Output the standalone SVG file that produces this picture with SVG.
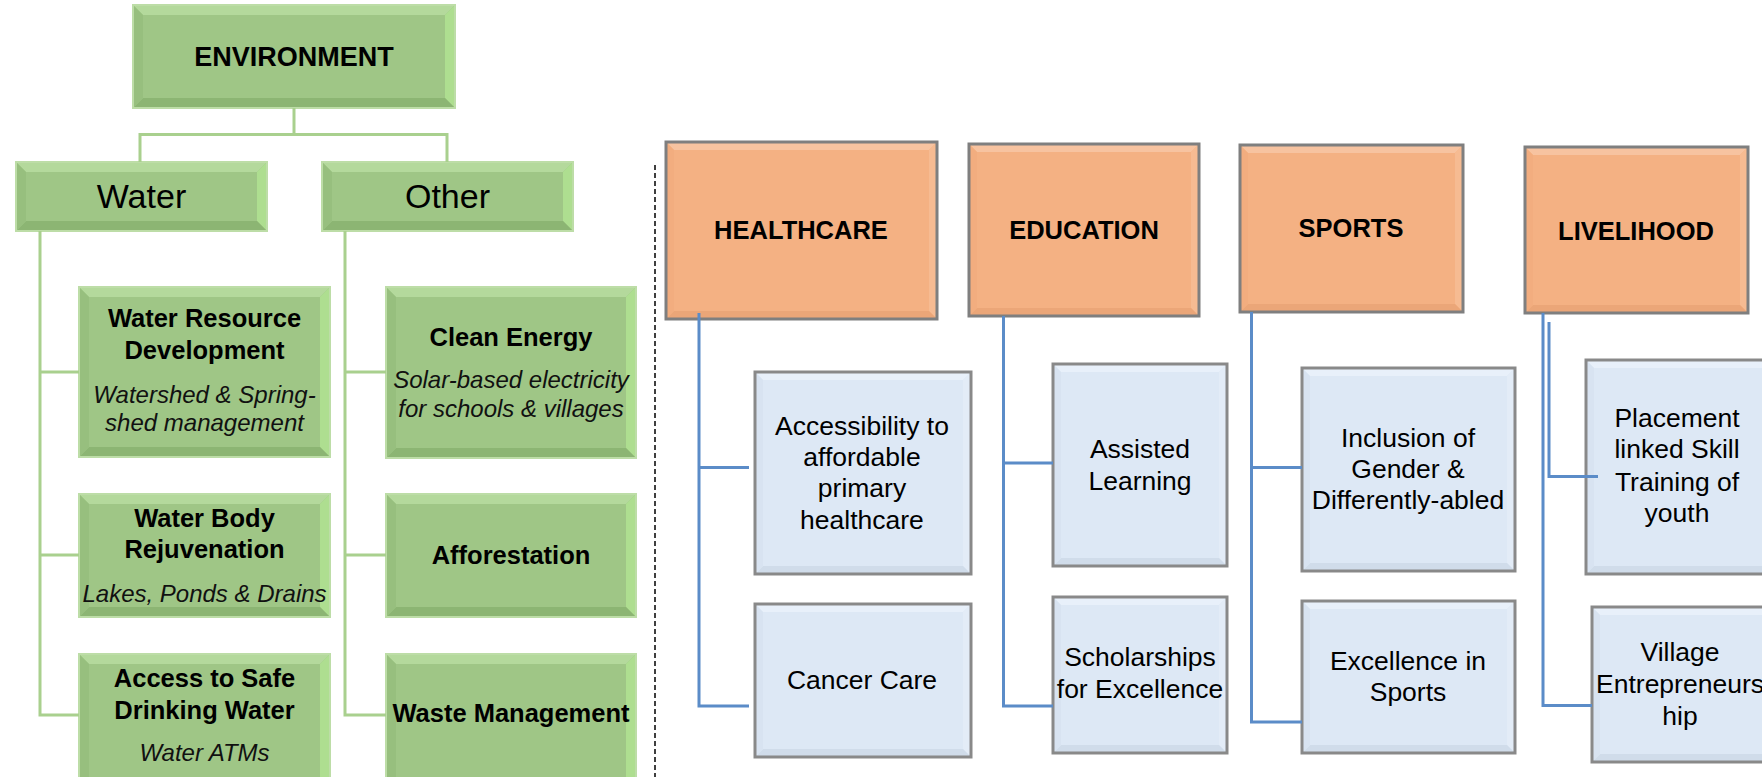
<svg xmlns="http://www.w3.org/2000/svg" width="1762" height="777" viewBox="0 0 1762 777">
<style>
text{font-family:"Liberation Sans",Arial,sans-serif;fill:#000;text-anchor:middle}
.gb{fill:#9fc686}.gt{fill:#b4d99c}.gr{fill:#aede90}.gbt{fill:#8cb573}.gl{fill:#97bf7e}
.go{fill:none;stroke:#bddda7;stroke-width:2}
.ob{fill:#f4b183}.ot{fill:#f7c3a0}.or{fill:#f6bb92}.obt{fill:#eba678}.ol{fill:#f2ad7f}
.oo{fill:none;stroke:#7f7f7f;stroke-width:3}
.bb{fill:#dde8f5}.bt{fill:#e8f0fa}.br{fill:#e3ecf7}.bbt{fill:#d0dcea}.bl{fill:#d8e3f1}
.bo{fill:none;stroke:#898989;stroke-width:3}
.t1{font-size:27px;font-weight:bold}
.t2{font-size:34px}
.tg{font-size:25.5px;font-weight:bold}
.ti{font-size:24px;font-style:italic;fill:#111}
.to{font-size:25.5px;font-weight:bold}
.tb{font-size:26.5px}
.cg{fill:none;stroke:#a9d08e;stroke-width:3}
.cb{fill:none;stroke:#5b8cc8;stroke-width:3}
.dash{fill:none;stroke:#000;stroke-width:1.5;stroke-dasharray:5 3}
</style>

<g id="environment">
<rect class="gb" x="133" y="5" width="322" height="103"/>
<polygon class="gt" points="133,5 455,5 445,15 143,15"/>
<polygon class="gr" points="455,5 455,108 445,98 445,15"/>
<polygon class="gbt" points="133,108 143,98 445,98 455,108"/>
<polygon class="gl" points="133,5 143,15 143,98 133,108"/>
<rect class="go" x="133" y="5" width="322" height="103"/>
<text class="t1" x="294" y="66">ENVIRONMENT</text>
</g>

<g id="water">
<rect class="gb" x="16" y="162" width="251" height="69"/>
<polygon class="gt" points="16,162 267,162 257,172 26,172"/>
<polygon class="gr" points="267,162 267,231 257,221 257,172"/>
<polygon class="gbt" points="16,231 26,221 257,221 267,231"/>
<polygon class="gl" points="16,162 26,172 26,221 16,231"/>
<rect class="go" x="16" y="162" width="251" height="69"/>
<text class="t2" x="141.5" y="208">Water</text>
</g>

<g id="other">
<rect class="gb" x="322" y="162" width="251" height="69"/>
<polygon class="gt" points="322,162 573,162 563,172 332,172"/>
<polygon class="gr" points="573,162 573,231 563,221 563,172"/>
<polygon class="gbt" points="322,231 332,221 563,221 573,231"/>
<polygon class="gl" points="322,162 332,172 332,221 322,231"/>
<rect class="go" x="322" y="162" width="251" height="69"/>
<text class="t2" x="447.5" y="208">Other</text>
</g>

<g id="water-resource">
<rect class="gb" x="79" y="287" width="251" height="170"/>
<polygon class="gt" points="79,287 330,287 320,297 89,297"/>
<polygon class="gr" points="330,287 330,457 320,447 320,297"/>
<polygon class="gbt" points="79,457 89,447 320,447 330,457"/>
<polygon class="gl" points="79,287 89,297 89,447 79,457"/>
<rect class="go" x="79" y="287" width="251" height="170"/>
<text class="tg" x="204.5" y="327">Water Resource</text>
<text class="tg" x="204.5" y="359">Development</text>
<text class="ti" x="204.5" y="403">Watershed &amp; Spring-</text>
<text class="ti" x="204.5" y="431">shed management</text>
</g>

<g id="water-body">
<rect class="gb" x="79" y="494" width="251" height="123"/>
<polygon class="gt" points="79,494 330,494 320,504 89,504"/>
<polygon class="gr" points="330,494 330,617 320,607 320,504"/>
<polygon class="gbt" points="79,617 89,607 320,607 330,617"/>
<polygon class="gl" points="79,494 89,504 89,607 79,617"/>
<rect class="go" x="79" y="494" width="251" height="123"/>
<text class="tg" x="204.5" y="527">Water Body</text>
<text class="tg" x="204.5" y="558">Rejuvenation</text>
<text class="ti" x="204.5" y="602">Lakes, Ponds &amp; Drains</text>
</g>

<g id="safe-water">
<rect class="gb" x="79" y="654" width="251" height="136"/>
<polygon class="gt" points="79,654 330,654 320,664 89,664"/>
<polygon class="gr" points="330,654 330,790 320,780 320,664"/>
<polygon class="gl" points="79,654 89,664 89,780 79,790"/>
<rect class="go" x="79" y="654" width="251" height="136"/>
<text class="tg" x="204.5" y="687">Access to Safe</text>
<text class="tg" x="204.5" y="719">Drinking Water</text>
<text class="ti" x="204.5" y="761">Water ATMs</text>
</g>

<g id="clean-energy">
<rect class="gb" x="386" y="287" width="250" height="171"/>
<polygon class="gt" points="386,287 636,287 626,297 396,297"/>
<polygon class="gr" points="636,287 636,458 626,448 626,297"/>
<polygon class="gbt" points="386,458 396,448 626,448 636,458"/>
<polygon class="gl" points="386,287 396,297 396,448 386,458"/>
<rect class="go" x="386" y="287" width="250" height="171"/>
<text class="tg" x="511" y="346">Clean Energy</text>
<text class="ti" x="511" y="388">Solar-based electricity</text>
<text class="ti" x="511" y="417">for schools &amp; villages</text>
</g>

<g id="afforestation">
<rect class="gb" x="386" y="494" width="250" height="123"/>
<polygon class="gt" points="386,494 636,494 626,504 396,504"/>
<polygon class="gr" points="636,494 636,617 626,607 626,504"/>
<polygon class="gbt" points="386,617 396,607 626,607 636,617"/>
<polygon class="gl" points="386,494 396,504 396,607 386,617"/>
<rect class="go" x="386" y="494" width="250" height="123"/>
<text class="tg" x="511" y="564">Afforestation</text>
</g>

<g id="waste">
<rect class="gb" x="386" y="654" width="250" height="136"/>
<polygon class="gt" points="386,654 636,654 626,664 396,664"/>
<polygon class="gr" points="636,654 636,790 626,780 626,664"/>
<polygon class="gl" points="386,654 396,664 396,780 386,790"/>
<rect class="go" x="386" y="654" width="250" height="136"/>
<text class="tg" x="511" y="722">Waste Management</text>
</g>

<g id="healthcare">
<rect class="ob" x="666" y="142" width="271" height="177"/>
<polygon class="ot" points="666,142 937,142 929,150 674,150"/>
<polygon class="or" points="937,142 937,319 929,311 929,150"/>
<polygon class="obt" points="666,319 674,311 929,311 937,319"/>
<polygon class="ol" points="666,142 674,150 674,311 666,319"/>
<rect class="oo" x="666" y="142" width="271" height="177"/>
<text class="to" x="801" y="239">HEALTHCARE</text>
</g>

<g id="education">
<rect class="ob" x="969" y="144" width="230" height="172"/>
<polygon class="ot" points="969,144 1199,144 1191,152 977,152"/>
<polygon class="or" points="1199,144 1199,316 1191,308 1191,152"/>
<polygon class="obt" points="969,316 977,308 1191,308 1199,316"/>
<polygon class="ol" points="969,144 977,152 977,308 969,316"/>
<rect class="oo" x="969" y="144" width="230" height="172"/>
<text class="to" x="1084" y="239">EDUCATION</text>
</g>

<g id="sports">
<rect class="ob" x="1240" y="145" width="223" height="167"/>
<polygon class="ot" points="1240,145 1463,145 1455,153 1248,153"/>
<polygon class="or" points="1463,145 1463,312 1455,304 1455,153"/>
<polygon class="obt" points="1240,312 1248,304 1455,304 1463,312"/>
<polygon class="ol" points="1240,145 1248,153 1248,304 1240,312"/>
<rect class="oo" x="1240" y="145" width="223" height="167"/>
<text class="to" x="1351" y="237">SPORTS</text>
</g>

<g id="livelihood">
<rect class="ob" x="1525" y="147" width="223" height="166"/>
<polygon class="ot" points="1525,147 1748,147 1740,155 1533,155"/>
<polygon class="or" points="1748,147 1748,313 1740,305 1740,155"/>
<polygon class="obt" points="1525,313 1533,305 1740,305 1748,313"/>
<polygon class="ol" points="1525,147 1533,155 1533,305 1525,313"/>
<rect class="oo" x="1525" y="147" width="223" height="166"/>
<text class="to" x="1636" y="239.5">LIVELIHOOD</text>
</g>

<g id="accessibility">
<rect class="bb" x="755" y="372" width="216" height="202"/>
<polygon class="bt" points="755,372 971,372 963,380 763,380"/>
<polygon class="br" points="971,372 971,574 963,566 963,380"/>
<polygon class="bbt" points="755,574 763,566 963,566 971,574"/>
<polygon class="bl" points="755,372 763,380 763,566 755,574"/>
<rect class="bo" x="755" y="372" width="216" height="202"/>
<text class="tb" x="862" y="435">Accessibility to</text>
<text class="tb" x="862" y="466">affordable</text>
<text class="tb" x="862" y="497">primary</text>
<text class="tb" x="862" y="529">healthcare</text>
</g>

<g id="cancer-care">
<rect class="bb" x="755" y="604" width="216" height="153"/>
<polygon class="bt" points="755,604 971,604 963,612 763,612"/>
<polygon class="br" points="971,604 971,757 963,749 963,612"/>
<polygon class="bbt" points="755,757 763,749 963,749 971,757"/>
<polygon class="bl" points="755,604 763,612 763,749 755,757"/>
<rect class="bo" x="755" y="604" width="216" height="153"/>
<text class="tb" x="862" y="689">Cancer Care</text>
</g>

<g id="assisted-learning">
<rect class="bb" x="1053" y="364" width="174" height="202"/>
<polygon class="bt" points="1053,364 1227,364 1219,372 1061,372"/>
<polygon class="br" points="1227,364 1227,566 1219,558 1219,372"/>
<polygon class="bbt" points="1053,566 1061,558 1219,558 1227,566"/>
<polygon class="bl" points="1053,364 1061,372 1061,558 1053,566"/>
<rect class="bo" x="1053" y="364" width="174" height="202"/>
<text class="tb" x="1140" y="458">Assisted</text>
<text class="tb" x="1140" y="490">Learning</text>
</g>

<g id="scholarships">
<rect class="bb" x="1053" y="597" width="174" height="156"/>
<polygon class="bt" points="1053,597 1227,597 1219,605 1061,605"/>
<polygon class="br" points="1227,597 1227,753 1219,745 1219,605"/>
<polygon class="bbt" points="1053,753 1061,745 1219,745 1227,753"/>
<polygon class="bl" points="1053,597 1061,605 1061,745 1053,753"/>
<rect class="bo" x="1053" y="597" width="174" height="156"/>
<text class="tb" x="1140" y="666">Scholarships</text>
<text class="tb" x="1140" y="698">for Excellence</text>
</g>

<g id="inclusion">
<rect class="bb" x="1302" y="368" width="213" height="203"/>
<polygon class="bt" points="1302,368 1515,368 1507,376 1310,376"/>
<polygon class="br" points="1515,368 1515,571 1507,563 1507,376"/>
<polygon class="bbt" points="1302,571 1310,563 1507,563 1515,571"/>
<polygon class="bl" points="1302,368 1310,376 1310,563 1302,571"/>
<rect class="bo" x="1302" y="368" width="213" height="203"/>
<text class="tb" x="1408" y="447">Inclusion of</text>
<text class="tb" x="1408" y="478">Gender &amp;</text>
<text class="tb" x="1408" y="509">Differently-abled</text>
</g>

<g id="excellence-sports">
<rect class="bb" x="1302" y="601" width="213" height="152"/>
<polygon class="bt" points="1302,601 1515,601 1507,609 1310,609"/>
<polygon class="br" points="1515,601 1515,753 1507,745 1507,609"/>
<polygon class="bbt" points="1302,753 1310,745 1507,745 1515,753"/>
<polygon class="bl" points="1302,601 1310,609 1310,745 1302,753"/>
<rect class="bo" x="1302" y="601" width="213" height="152"/>
<text class="tb" x="1408" y="670">Excellence in</text>
<text class="tb" x="1408" y="701">Sports</text>
</g>

<g id="placement">
<rect class="bb" x="1586" y="360" width="194" height="214"/>
<polygon class="bt" points="1586,360 1780,360 1772,368 1594,368"/>
<polygon class="bbt" points="1586,574 1594,566 1772,566 1780,574"/>
<polygon class="bl" points="1586,360 1594,368 1594,566 1586,574"/>
<rect class="bo" x="1586" y="360" width="194" height="214"/>
<text class="tb" x="1677" y="427">Placement</text>
<text class="tb" x="1677" y="458">linked Skill</text>
<text class="tb" x="1677" y="491">Training of</text>
<text class="tb" x="1677" y="522">youth</text>
</g>

<g id="village">
<rect class="bb" x="1592" y="607" width="188" height="155"/>
<polygon class="bt" points="1592,607 1780,607 1772,615 1600,615"/>
<polygon class="bbt" points="1592,762 1600,754 1772,754 1780,762"/>
<polygon class="bl" points="1592,607 1600,615 1600,754 1592,762"/>
<rect class="bo" x="1592" y="607" width="188" height="155"/>
<text class="tb" x="1680" y="661">Village</text>
<text class="tb" x="1680" y="693">Entrepreneurs</text>
<text class="tb" x="1680" y="725">hip</text>
</g>

<g id="connectors">
<polyline class="cg" points="294,108 294,134.5"/>
<polyline class="cg" points="140,162 140,134.5 447,134.5 447,162"/>
<polyline class="cg" points="40,231 40,715 79,715"/>
<polyline class="cg" points="40,372 79,372"/>
<polyline class="cg" points="40,555 79,555"/>
<polyline class="cg" points="345,231 345,715 386,715"/>
<polyline class="cg" points="345,372 386,372"/>
<polyline class="cg" points="345,555 386,555"/>
<line class="dash" x1="655" y1="165" x2="655" y2="777"/>
<polyline class="cb" points="699,313 699,706 749,706"/>
<polyline class="cb" points="699,467.5 749,467.5"/>
<polyline class="cb" points="1003.5,316 1003.5,706 1053,706"/>
<polyline class="cb" points="1003.5,463 1053,463"/>
<polyline class="cb" points="1251.5,312 1251.5,722 1302,722"/>
<polyline class="cb" points="1251.5,467.5 1302,467.5"/>
<polyline class="cb" points="1543,313 1543,705.5 1592,705.5"/>
<polyline class="cb" points="1549,322 1549,476.5 1598,476.5"/>
</g>
</svg>
